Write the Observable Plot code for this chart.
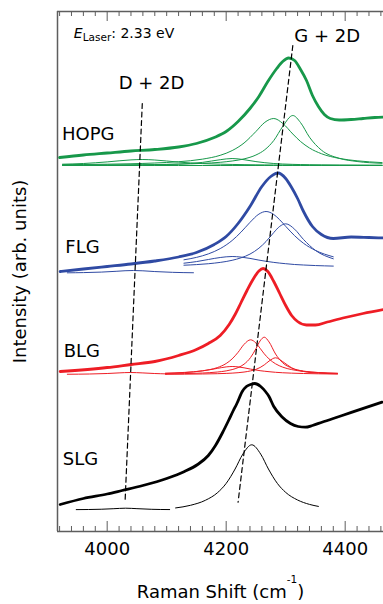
<!DOCTYPE html>
<html><head><meta charset="utf-8">
<script src="https://cdn.jsdelivr.net/npm/d3@7"></script>
<script src="https://cdn.jsdelivr.net/npm/@observablehq/plot@0.6"></script>
<style>html,body{margin:0;padding:0;background:#fff}svg{display:block}</style>
</head><body><div id="chart"></div>
<script>
// ---- measured spectra (Raman shift in cm^-1, intensity in arb. units) ----
const hopgShift = [3920,3960,4000,4040,4080,4120,4150,4180,4200,4220,4240,4255,4270,4285,4295,4305,4315,4325,4335,4345,4355,4365,4375,4390,4410,4430,4450,4465];
const hopgIntensity = [37.4,37.65,37.85,38.05,38.2,38.45,38.8,39.4,40.0,41.0,42.3,43.5,45.0,46.3,47.0,47.35,47.1,46.2,45.1,43.6,42.5,41.7,41.3,41.15,41.2,41.3,41.4,41.45];

const flgShift = [3921,3960,4000,4040,4080,4120,4150,4180,4200,4220,4240,4260,4275,4287,4300,4310,4320,4330,4345,4360,4380,4410,4440,4465];
const flgIntensity = [26.0,26.25,26.5,26.75,27.05,27.45,27.9,28.7,29.5,30.8,32.5,34.5,35.5,35.85,35.3,34.4,33.3,32.0,30.5,29.7,29.3,29.45,29.4,29.35];

const blgShift = [3921,4000,4040,4080,4120,4150,4170,4190,4205,4215,4225,4235,4245,4255,4262,4270,4280,4290,4300,4310,4320,4335,4350,4370,4400,4430,4465];
const blgIntensity = [16.0,16.4,16.7,17.0,17.6,18.2,18.8,19.6,20.7,21.7,22.9,24.1,25.2,26.05,26.3,26.0,25.0,23.8,22.6,21.6,21.0,20.65,20.65,20.95,21.4,21.8,22.2];

const slgShift = [3921,3960,4000,4025,4060,4100,4130,4152,4170,4182,4194,4204,4212,4218,4227,4234,4241,4248,4258,4266,4272,4280,4294,4308,4321,4333,4345,4361,4395,4428,4462];
const slgIntensity = [2.7,3.3,3.75,4.1,4.6,5.3,6.0,6.7,7.6,8.6,9.9,11.1,12.1,12.8,14.0,14.5,14.7,14.8,14.5,14.0,13.5,12.5,11.45,10.8,10.5,10.43,10.6,10.93,11.6,12.27,12.93];

// ---- fitted components (height above each fit baseline) ----
const hopgFitShift = [3925,3960,4000,4040,4060,4080,4120,4160,4190,4210,4230,4250,4265,4280,4295,4312,4325,4340,4360,4390,4420,4462];
const hopgFitBase = 36.6;
const hopgFit1 = [0.13,0.20,0.36,0.56,0.60,0.55,0.34,0.19,0.13,0.105,0.085,0.07,0.06,0.054,0.048,0.042,0.039,0.035,0.031,0.026,0.022,0.017];
const hopgFit2 = [0.017,0.022,0.031,0.046,0.058,0.075,0.14,0.31,0.58,0.70,0.58,0.39,0.28,0.20,0.15,0.114,0.093,0.075,0.058,0.041,0.031,0.022];
const hopgFit3 = [0.081,0.10,0.13,0.175,0.207,0.25,0.378,0.634,1.02,1.49,2.25,3.40,4.32,4.70,4.21,3.15,2.40,1.75,1.18,0.71,0.47,0.29];
const hopgFit4 = [0.034,0.041,0.052,0.068,0.079,0.093,0.135,0.212,0.32,0.45,0.66,1.05,1.58,2.50,3.90,5.0,4.29,2.83,1.54,0.72,0.40,0.217];
const hopgFitFlat = [0,0,0,0,0,0,0,0,0,0,0,0,0,0,0,0,0,0,0,0,0,0];

const flgFitDShift = [3933,3960,3990,4015,4030,4044,4060,4080,4110,4145];
const flgFitDBase = 25.83;
const flgFitD = [0.038,0.06,0.11,0.19,0.246,0.27,0.24,0.165,0.086,0.045];
const flgFitGShift = [4129,4150,4170,4190,4210,4225,4240,4255,4267,4280,4290,4300,4315,4330,4350,4380];
const flgFitGBase = 26.4;
const flgFit1 = [0.43,0.59,0.80,1.00,1.10,1.04,0.91,0.74,0.62,0.51,0.44,0.38,0.30,0.25,0.195,0.14];
const flgFit2 = [0.77,1.01,1.36,1.89,2.70,3.54,4.51,5.34,5.60,5.30,4.77,4.12,3.18,2.42,1.71,1.07];
const flgFit3 = [0.227,0.29,0.378,0.51,0.72,0.97,1.34,1.93,2.60,3.50,4.11,4.37,3.83,2.80,1.71,0.87];

const blgFitDShift = [3933,3970,4000,4020,4039,4060,4080,4100];
const blgFitDBase = 15.7;
const blgFitD = [0.025,0.05,0.10,0.16,0.20,0.157,0.098,0.06];
const blgFitGShift = [4098,4130,4160,4185,4200,4210,4220,4230,4241,4250,4257,4264,4272,4283,4295,4310,4330,4355,4387];
const blgFitGBase = 15.7;
const blgFit1 = [0.11,0.19,0.36,0.61,0.76,0.80,0.76,0.67,0.54,0.45,0.38,0.33,0.28,0.22,0.175,0.135,0.10,0.07,0.05];
const blgFit2 = [0.128,0.21,0.37,0.69,1.10,1.56,2.22,3.01,3.47,3.15,2.62,2.07,1.56,1.07,0.735,0.49,0.31,0.197,0.123];
const blgFit3 = [0.059,0.089,0.146,0.246,0.36,0.49,0.69,1.03,1.70,2.58,3.36,3.73,3.26,2.05,1.17,0.64,0.34,0.19,0.106];
const blgFit4 = [0.023,0.034,0.052,0.08,0.11,0.139,0.18,0.245,0.36,0.51,0.70,0.96,1.34,1.67,1.29,0.67,0.30,0.143,0.072];

const slgFitDShift = [3948,3990,4010,4031,4050,4075,4105];
const slgFitDBase = 2.17;
const slgFitD = [0.018,0.056,0.107,0.16,0.114,0.05,0.023];
const slgFitGShift = [4115,4140,4165,4185,4200,4215,4228,4243,4258,4271,4286,4300,4320,4340,4355];
const slgFitGBase = 1.8;
const slgFitG = [0.556,0.82,1.32,2.06,3.01,4.45,5.94,6.87,5.94,4.45,3.01,2.11,1.35,0.91,0.71];

// ---- guide lines (dispersion of the combination modes) ----
const dPlus2DShift = [4059, 4030];
const dPlus2DIntensity = [42.8, 2.9];
const gPlus2DShift = [4312, 4220];
const gPlus2DIntensity = [48.6, 2.93];

// ---- labels ----
const sampleLabels = ["HOPG", "FLG", "BLG", "SLG"];
const bandLabels = ["D + 2D", "G + 2D"];
const majorTicks = [4000, 4200, 4400];
const minorTicks = d3.range(3920, 4461, 20).filter(t => !majorTicks.includes(t));
const xTitle = "Raman Shift (cm-1)";
const yTitle = "Intensity (arb. units)";
const laserLabel = "ELaser: 2.33 eV";

const xDomain = [3916.5, 4464.4];
const yDomain = [0, 52];

const GREEN = "#17984a", BLUE = "#2f4aa3", RED = "#ee1d25", BLACK = "#000";

function rows(shift, vals, base, key) {
  return shift.map((x, i) => ({x, y: vals[i] + base, key}));
}

const hopgFits = [
  ...rows(hopgFitShift, hopgFitFlat, hopgFitBase, "h0"),
  ...rows(hopgFitShift, hopgFit1, hopgFitBase, "h1"),
  ...rows(hopgFitShift, hopgFit2, hopgFitBase, "h2"),
  ...rows(hopgFitShift, hopgFit3, hopgFitBase, "h3"),
  ...rows(hopgFitShift, hopgFit4, hopgFitBase, "h4")
];
const flgFits = [
  ...rows(flgFitDShift, flgFitD, flgFitDBase, "f0"),
  ...rows(flgFitGShift, flgFit1, flgFitGBase, "f1"),
  ...rows(flgFitGShift, flgFit2, flgFitGBase, "f2"),
  ...rows(flgFitGShift, flgFit3, flgFitGBase, "f3")
];
const blgFits = [
  ...rows(blgFitDShift, blgFitD, blgFitDBase, "b0"),
  ...rows(blgFitGShift, blgFit1, blgFitGBase, "b1"),
  ...rows(blgFitGShift, blgFit2, blgFitGBase, "b2"),
  ...rows(blgFitGShift, blgFit3, blgFitGBase, "b3"),
  ...rows(blgFitGShift, blgFit4, blgFitGBase, "b4")
];
const slgFits = [
  ...rows(slgFitDShift, slgFitD, slgFitDBase, "s0"),
  ...rows(slgFitGShift, slgFitG, slgFitGBase, "s1")
];
const guides = [
  ...rows(dPlus2DShift, dPlus2DIntensity, 0, "d"),
  ...rows(gPlus2DShift, gPlus2DIntensity, 0, "g")
];

const FRAME = "#5e5e5e";
const thin = (data, color) => Plot.line(data, {x: "x", y: "y", z: "key", stroke: color, strokeWidth: 1, curve: "monotone-x"});
const thick = (sx, sy, color) => Plot.line(rows(sx, sy, 0, "d"), {x: "x", y: "y", stroke: color, strokeWidth: 2.8, curve: "monotone-x", strokeLinejoin: "round"});

const chart = Plot.plot({
  width: 383, height: 604,
  marginTop: 11, marginBottom: 73, marginLeft: 57, marginRight: 0,
  x: {domain: xDomain, axis: null},
  y: {domain: yDomain, axis: null},
  style: {fontFamily: "DejaVu Sans", background: "#fff", overflow: "visible"},
  marks: [
    // frame
    Plot.ruleY([yDomain[0], yDomain[1]], {stroke: FRAME, strokeWidth: 1.5}),
    Plot.ruleX([xDomain[0]], {stroke: FRAME, strokeWidth: 1.5}),
    // inward ticks, bottom and top
    Plot.ruleX(minorTicks, {x: d => d, y1: 0, y2: 0.5, stroke: FRAME, strokeWidth: 1}),
    Plot.ruleX(majorTicks, {x: d => d, y1: 0, y2: 1.0, stroke: FRAME, strokeWidth: 1}),
    Plot.ruleX(minorTicks, {x: d => d, y1: 52, y2: 51.5, stroke: FRAME, strokeWidth: 1}),
    Plot.ruleX(majorTicks, {x: d => d, y1: 52, y2: 51.0, stroke: FRAME, strokeWidth: 1}),
    // fitted components
    thin(hopgFits, GREEN),
    thin(flgFits, BLUE),
    thin(blgFits, RED),
    thin(slgFits, BLACK),
    // spectra
    thick(hopgShift, hopgIntensity, GREEN),
    thick(flgShift, flgIntensity, BLUE),
    thick(blgShift, blgIntensity, RED),
    thick(slgShift, slgIntensity, BLACK),
    // guides
    Plot.line(guides, {x: "x", y: "y", z: "key", stroke: "#000", strokeWidth: 1.2, strokeDasharray: "5,3.5"}),
    // sample labels
    Plot.text(sampleLabels, {x: [3924, 3929.7, 3926.9, 3925.4], y: [39.68, 28.38, 18.01, 7.18], text: d => d, textAnchor: "start", lineAnchor: "middle", fontSize: 18, fill: "#000"}),
    Plot.text(bandLabels, {x: [4074.5, 4369.7], y: [44.85, 49.51], text: d => d, textAnchor: "middle", lineAnchor: "middle", fontSize: 18, fill: "#000"}),
    Plot.text([laserLabel], {x: 3944, y: 49.75, text: d => d, textAnchor: "start", lineAnchor: "middle", fontSize: 14, fill: "#000"}),
    // tick labels
    Plot.text(majorTicks, {x: d => d, y: 0, dy: 18, text: d => String(d), textAnchor: "middle", lineAnchor: "middle", fontSize: 18, fill: "#000"}),
    // axis titles
    Plot.text([xTitle], {x: (xDomain[0] + xDomain[1]) / 2, y: 0, dy: 60.7, text: d => d, textAnchor: "middle", lineAnchor: "middle", fontSize: 18, fill: "#000"}),
    Plot.text([yTitle], {x: 3853.4, y: (yDomain[0] + yDomain[1]) / 2, text: d => d, rotate: -90, textAnchor: "middle", lineAnchor: "middle", fontSize: 18, fill: "#000"})
  ]
});

// rich text: superscript and subscript
d3.select(chart).selectAll("text").each(function () {
  const t = d3.select(this);
  const s = this.textContent;
  if (s === xTitle) {
    t.text(null);
    t.append("tspan").text("Raman Shift (cm");
    t.append("tspan").attr("dy", -15).attr("font-size", 10.5).text("-1");
    t.append("tspan").attr("dy", 15).text(")");
  } else if (s === laserLabel) {
    t.text(null);
    t.append("tspan").attr("font-style", "italic").text("E");
    t.append("tspan").attr("dy", 3).attr("font-size", 10.5).text("Laser");
    t.append("tspan").attr("dy", -3).text(": 2.33 eV");
  }
});

document.getElementById("chart").appendChild(chart);
</script></body></html>
